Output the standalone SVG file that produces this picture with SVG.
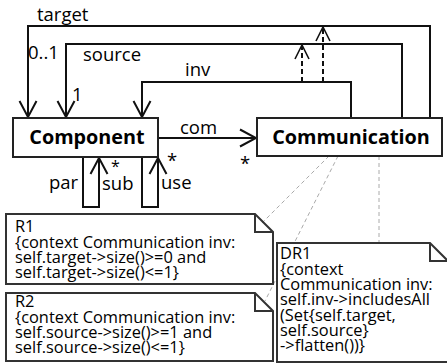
<svg xmlns="http://www.w3.org/2000/svg" width="447" height="364" viewBox="0 0 447 364">
  <style>
    .box { fill: #fff; stroke: #222; stroke-width: 2; }
    .note { fill: #fff; stroke: #333; stroke-width: 2; stroke-linejoin: miter; }
    .edge { fill: none; stroke: #111; stroke-width: 2; }
    .dep { fill: none; stroke: #111; stroke-width: 2; stroke-dasharray: 5 3; }
    .anchor { fill: none; stroke: #aaa; stroke-width: 1; stroke-dasharray: 4 3; }
    text { font-family: "Open Sans", "Noto Sans", "Liberation Sans", sans-serif; fill: #000; }
    .cls { font-size: 19.8px; font-weight: bold; text-anchor: middle; }
    .lbl { font-size: 18.5px; }
    .mult { font-size: 16px; }
    .ocl { font-size: 16.4px; }
  </style>
  <defs>
    <marker id="open" markerUnits="userSpaceOnUse" markerWidth="20" markerHeight="20" viewBox="-18 -10 20 20" refX="0" refY="0" orient="auto">
      <path d="M-16,-8.5 L0,0 L-16,8.5" fill="none" stroke="#111" stroke-width="2"/>
    </marker>
    <marker id="openSmall" markerUnits="userSpaceOnUse" markerWidth="18" markerHeight="18" viewBox="-16 -9 18 18" refX="0" refY="0" orient="auto">
      <path d="M-14,-7 L0,0 L-14,7" fill="none" stroke="#111" stroke-width="1.6"/>
    </marker>
  </defs>

  <g id="connectors">
    <!-- target association -->
    <path class="edge" d="M430,118 V26 H28 V117" marker-end="url(#open)"/>
    <!-- source association -->
    <path class="edge" d="M402,118 V44 H66 V117" marker-end="url(#open)"/>
    <!-- inv association -->
    <path class="edge" d="M351,118 V82 H142 V117" marker-end="url(#open)"/>
    <!-- derived dependencies -->
    <path class="dep" d="M302,82 V45" marker-end="url(#openSmall)"/>
    <path class="dep" d="M323,82 V27" marker-end="url(#openSmall)"/>
    <!-- com association -->
    <path class="edge" d="M158,138 H256" marker-end="url(#open)"/>
    <!-- par / sub self association -->
    <path class="edge" d="M83,157 V207 H99 V158" marker-end="url(#open)"/>
    <!-- use self association -->
    <path class="edge" d="M142,157 V207 H158 V158" marker-end="url(#open)"/>
    <!-- note anchors -->
    <path class="anchor" d="M329,156 L262,223"/>
    <path class="anchor" d="M338,156 L265,301"/>
    <path class="anchor" d="M379,156 V243"/>

    <text class="lbl" x="37" y="21">target</text>
    <text class="lbl" x="28" y="59">0..1</text>
    <text class="lbl" x="83" y="61">source</text>
    <text class="lbl" x="72" y="101">1</text>
    <text class="lbl" x="185" y="76">inv</text>
    <text class="lbl" x="180" y="134">com</text>
    <text class="lbl" x="240" y="170">*</text>
    <text class="mult" x="111" y="172">*</text>
    <text class="lbl" x="167" y="167">*</text>
    <text class="lbl" x="49" y="189">par</text>
    <text class="lbl" x="102" y="190">sub</text>
    <text class="lbl" x="161" y="189">use</text>
  </g>

  <g id="Component">
    <rect class="box" x="13" y="118" width="145" height="39"/>
    <text class="cls" x="87" y="144">Component</text>
  </g>

  <g id="Communication">
    <rect class="box" x="257" y="118" width="185" height="38"/>
    <text class="cls" x="351" y="144">Communication</text>
  </g>

  <g id="R1">
    <path class="note" d="M6,214 H255 L273,232 V284 H6 Z M255,214 V232 H273"/>
    <text class="ocl" x="15"><tspan x="15" y="232">R1</tspan><tspan x="15" y="247.5">{context Communication inv:</tspan><tspan x="15" y="263">self.target-&gt;size()&gt;=0 and</tspan><tspan x="15" y="278">self.target-&gt;size()&lt;=1}</tspan></text>
  </g>

  <g id="R2">
    <path class="note" d="M6,293 H255 L273,311 V361 H6 Z M255,293 V311 H273"/>
    <text class="ocl" x="15"><tspan x="15" y="307">R2</tspan><tspan x="15" y="322.5">{context Communication inv:</tspan><tspan x="15" y="338">self.source-&gt;size()&gt;=1 and</tspan><tspan x="15" y="353">self.source-&gt;size()&lt;=1}</tspan></text>
  </g>

  <g id="DR1">
    <path class="note" d="M277,243 H430 L448,261 V362 H277 Z M430,243 V261 H448"/>
    <text class="ocl" x="280"><tspan x="280" y="259">DR1</tspan><tspan x="280" y="274.5">{context</tspan><tspan x="280" y="290">Communication inv:</tspan><tspan x="280" y="305">self.inv-&gt;includesAll</tspan><tspan x="280" y="320.5">(Set{self.target,</tspan><tspan x="280" y="336">self.source}</tspan><tspan x="280" y="351">-&gt;flatten())}</tspan></text>
  </g>
</svg>
